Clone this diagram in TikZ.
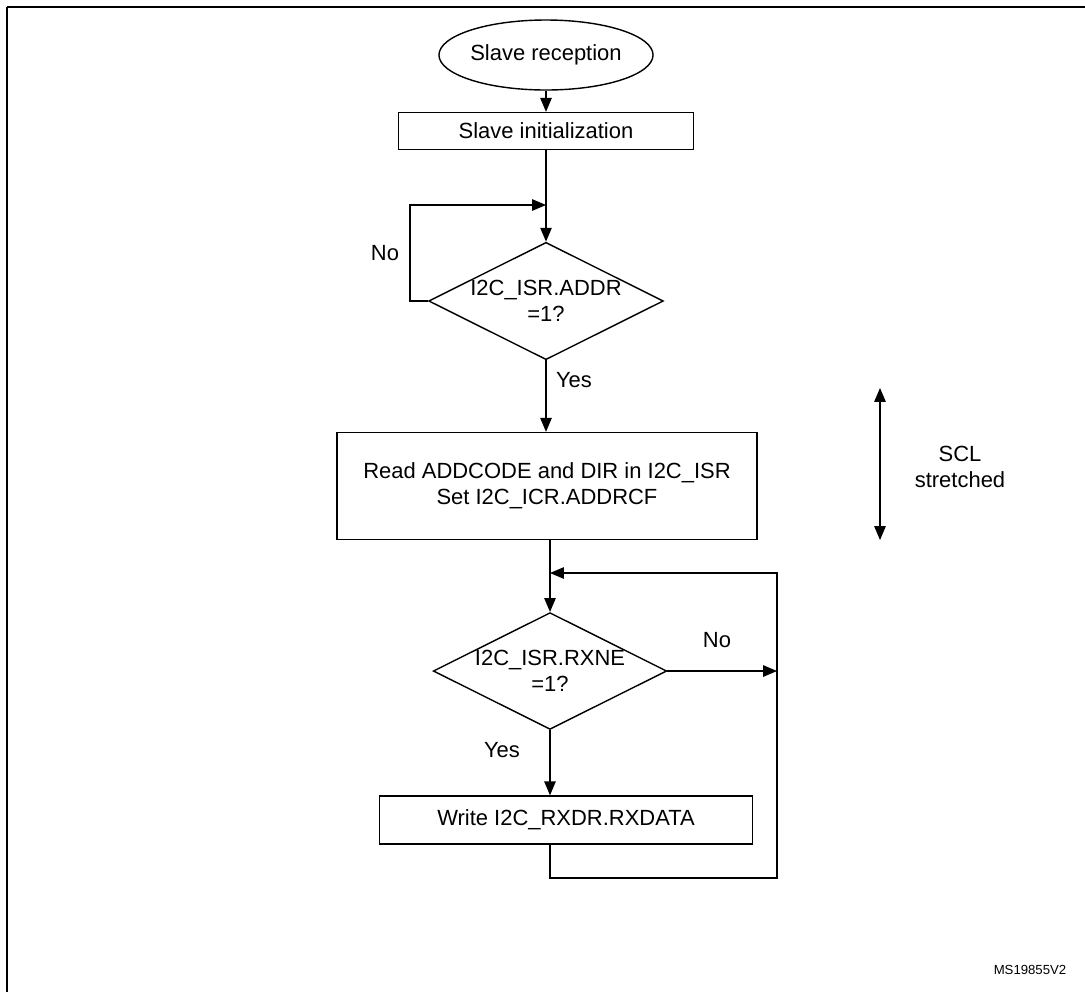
\documentclass[tikz,border=0pt]{standalone}
\usepackage{fontspec}
\setmainfont{Liberation Sans}
\usetikzlibrary{arrows,shapes.geometric}

\begin{document}
\begin{tikzpicture}[x=0.02cm,y=-0.02cm,>=triangle 45,thick,
  font=\fontsize{12.5}{15}\selectfont]

  \tikzstyle{stepbox}=[draw=black,fill=white,inner sep=0pt]
  \tikzstyle{test}=[draw=black,diamond,shape aspect=2,inner sep=0pt,align=center]
  \tikzstyle{lbl}=[inner sep=0pt]

  \useasboundingbox (0,0) rectangle (1085,992);
  \draw (7,7) -- (7,992) (7,7) -- (1085,7);

  \node[draw,ellipse,minimum width=186*0.02cm,minimum height=70*0.02cm,inner sep=0pt] (start) at (546,55) {Slave reception};
  \node[stepbox,minimum width=295*0.02cm,minimum height=37*0.02cm] (init) at (546,131) {Slave initialization};
  \node[test,minimum width=232*0.02cm] (addr) at (546,301) {I2C\_ISR.ADDR\\=1?};
  \node[stepbox,minimum width=420*0.02cm,minimum height=107*0.02cm,align=center] (read) at (547,486) {Read ADDCODE and DIR in I2C\_ISR\\Set I2C\_ICR.ADDRCF};
  \node[test,minimum width=226*0.02cm] (rxne) at (550,671) {I2C\_ISR.RXNE\\=1?};
  \node[stepbox,minimum width=373*0.02cm,minimum height=48*0.02cm] (write) at (566,820) {Write I2C\_RXDR.RXDATA};

  \coordinate (m1) at (546,205);
  \coordinate (m2) at (550,573);
  \coordinate (r1) at (777,671);

  \draw[->] (start) -- (init);
  \draw[->] (init) -- (addr);
  \draw[->] (addr.west) -- (410,301) |- (m1);
  \draw[->] (addr) -- (read.north -| addr);
  \draw[->] (read.south -| rxne) -- (rxne);
  \draw[->] (rxne.east) -- (r1);
  \draw[->] (rxne) -- (write.north -| rxne);
  \draw[->] (write.south -| rxne) -- (550,878) -| (777,573) -- (m2);

  \draw[<->] (880,388) -- (880,540);

  \node[lbl] (no1) at (385,253) {No};
  \node[lbl] (yes1) at (574,380) {Yes};
  \node[lbl] (no2) at (717,640) {No};
  \node[lbl] (yes2) at (502,750) {Yes};
  \node[lbl,align=center] (scl) at (960,467) {SCL\\stretched};
  \node[lbl,font=\fontsize{7.5}{8}\selectfont] (ref) at (1030,970) {MS19855V2};
\end{tikzpicture}
\end{document}
